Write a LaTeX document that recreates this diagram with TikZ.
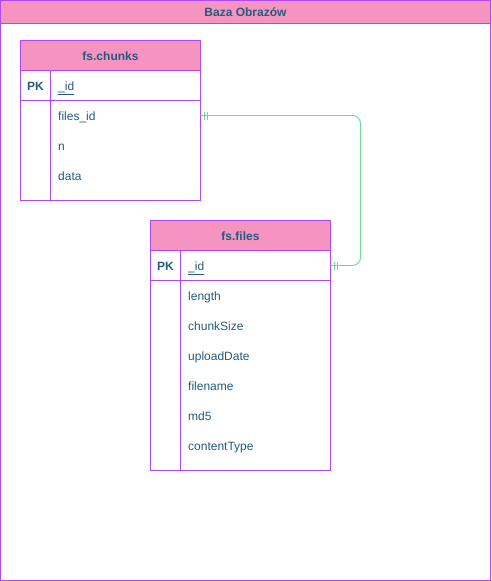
\documentclass[tikz,border=0pt]{standalone}
\usepackage{fontspec}
\setmainfont{Liberation Sans}
\begin{document}
\begin{tikzpicture}[x=1pt,y=-1pt,
  frame/.style={draw=bpurple, line width=0.9pt},
  hdr/.style={draw=bpurple, fill=bpink, line width=0.9pt},
  txt/.style={text=tblue, font=\fontsize{12}{14}\selectfont, inner sep=0pt, anchor=base west},
  ttl/.style={text=tblue, font=\bfseries\fontsize{12}{14}\selectfont, inner sep=0pt, anchor=base},
  rel/.style={draw=rgreen, line width=0.9pt, rounded corners=8pt},
  bar/.style={draw=rgreen, line width=0.9pt}
]
\definecolor{bpurple}{HTML}{B04AF0}
\definecolor{bpink}{HTML}{F594C1}
\definecolor{tblue}{HTML}{245B7E}
\definecolor{rgreen}{HTML}{6BDB96}
\newcommand{\uid}{\underline{\_id}}
\useasboundingbox (0,0) rectangle (491,581);
% outer container
\draw[frame] (0.5,0.5) rectangle (490.5,580.5);
\draw[hdr] (0.5,0.5) rectangle (490.5,23);
\node[ttl] (title) at (245.5,16.5) {Baza Obrazów};
% fs.chunks
\draw[frame, fill=white] (20.5,40.5) rectangle (200.5,200.5);
\draw[hdr] (20.5,40.5) rectangle (200.5,70.5);
\node[ttl] (chunks) at (110.5,60) {fs.chunks};
\draw[frame] (20.5,100.5) -- (200.5,100.5);
\draw[frame] (50.5,70.5) -- (50.5,200.5);
\node[ttl] (cpk) at (35.5,90) {PK};
\node[txt] (cid) at (58,90) {\uid};
\node[txt] (cfid) at (58,120) {files\_id};
\node[txt] (cn) at (58,150) {n};
\node[txt] (cdata) at (58,180) {data};
\coordinate (cend) at (200.5,115.5);
% fs.files
\draw[frame, fill=white] (150.5,220.5) rectangle (330.5,470.5);
\draw[hdr] (150.5,220.5) rectangle (330.5,250.5);
\node[ttl] (files) at (240.5,240) {fs.files};
\draw[frame] (150.5,280.5) -- (330.5,280.5);
\draw[frame] (180.5,250.5) -- (180.5,470.5);
\node[ttl] (fpk) at (165.5,270) {PK};
\node[txt] (fid) at (188,270) {\uid};
\node[txt] (flen) at (188,300) {length};
\node[txt] (fcs) at (188,330) {chunkSize};
\node[txt] (fud) at (188,360) {uploadDate};
\node[txt] (ffn) at (188,390) {filename};
\node[txt] (fmd) at (188,420) {md5};
\node[txt] (fct) at (188,450) {contentType};
\coordinate (fend) at (330.5,265.5);
% relation
\draw[rel] (cend) -- (360.5,115.5) -- (360.5,265.5) -- (fend);
\foreach \dx in {4,7} {
  \draw[bar] ([xshift=\dx pt]cend) ++(0,-4) -- ++(0,8);
  \draw[bar] ([xshift=\dx pt]fend) ++(0,-4) -- ++(0,8);
}
\end{tikzpicture}
\end{document}
